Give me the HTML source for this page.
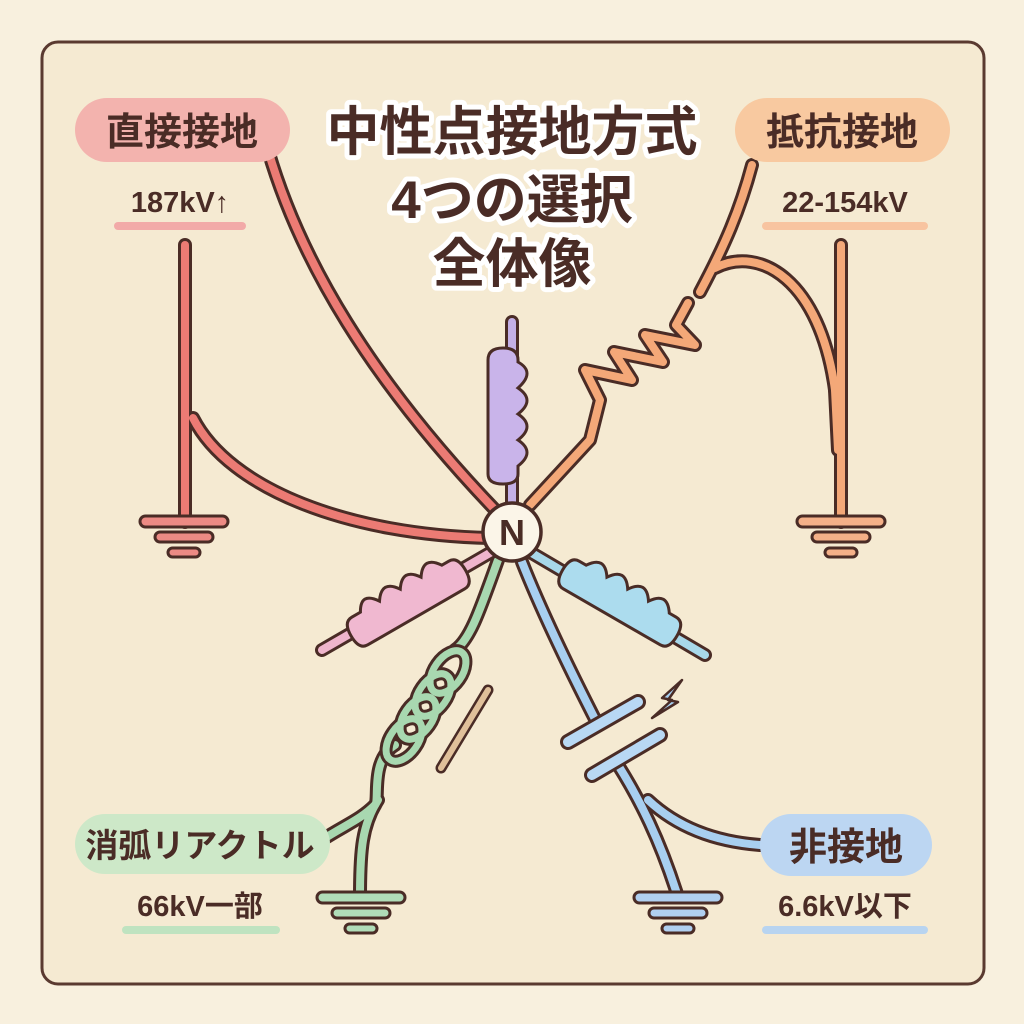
<!DOCTYPE html>
<html><head><meta charset="utf-8">
<style>
html,body{margin:0;padding:0;background:#f7eedb;}
svg{display:block}
.t{font-family:"Liberation Sans","Noto Sans CJK JP",sans-serif;font-weight:bold;fill:#4a2c26}
</style></head><body>
<svg width="1024" height="1024" viewBox="0 0 1024 1024" xmlns="http://www.w3.org/2000/svg">
<rect x="0" y="0" width="1024" height="1024" fill="#f8f0de"/>
<rect x="42" y="42" width="942" height="942" rx="16" fill="#f5ead2" stroke="#5a3a30" stroke-width="3"/>

<g fill="none" stroke-linecap="round" stroke-linejoin="round">
<!-- red -->
<g stroke="#4a2c26" stroke-width="14">
<path d="M268,150 C300,260 370,380 500,515"/>
<path d="M185,245 L185,522"/>
<path d="M490,538 C350,535 230,490 193,418"/>
</g>
<g stroke="#ec7b74" stroke-width="8">
<path d="M268,150 C300,260 370,380 500,515"/>
<path d="M185,245 L185,522"/>
<path d="M490,538 C350,535 230,490 193,418"/>
</g>
<!-- orange -->
<g stroke="#4a2c26" stroke-width="14">
<path d="M752,165 C740,210 725,245 700,292"/>
<path d="M715,268 C760,245 820,280 835,390"/>
<path d="M841,245 L841,522"/>
<path d="M835,390 L838,450"/>
<path d="M688,303 L676,325 L695,345 L645,335 L663,362 L614,352 L632,380 L585,370 L600,400 L590,440 L530,505"/>
</g>
<g stroke="#f4a878" stroke-width="8">
<path d="M752,165 C740,210 725,245 700,292"/>
<path d="M715,268 C760,245 820,280 835,390"/>
<path d="M841,245 L841,522"/>
<path d="M835,390 L838,450"/>
<path d="M688,303 L676,325 L695,345 L645,335 L663,362 L614,352 L632,380 L585,370 L600,400 L590,440 L530,505"/>
</g>
<!-- green -->
<g stroke="#4a2c26" stroke-width="14">
<path d="M498,560 C480,610 470,640 455,650"/>
<path d="M395,745 C370,760 380,800 375,805 C360,820 345,825 322,840"/>
<path d="M378,800 C362,825 360,850 360,897"/>
</g>
<g stroke="#a8d8b0" stroke-width="8">
<path d="M498,560 C480,610 470,640 455,650"/>
<path d="M395,745 C370,760 380,800 375,805 C360,820 345,825 322,840"/>
<path d="M378,800 C362,825 360,850 360,897"/>
</g>
<g stroke="#4a2c26" stroke-width="13">
<ellipse cx="448" cy="672" rx="24" ry="14" transform="rotate(-55 448 672)"/>
<ellipse cx="433" cy="695" rx="24" ry="14" transform="rotate(-55 433 695)"/>
<ellipse cx="418" cy="718" rx="24" ry="14" transform="rotate(-55 418 718)"/>
<ellipse cx="404" cy="740" rx="24" ry="14" transform="rotate(-55 404 740)"/>
</g>
<g stroke="#a8d8b0" stroke-width="7">
<ellipse cx="448" cy="672" rx="24" ry="14" transform="rotate(-55 448 672)"/>
<ellipse cx="433" cy="695" rx="24" ry="14" transform="rotate(-55 433 695)"/>
<ellipse cx="418" cy="718" rx="24" ry="14" transform="rotate(-55 418 718)"/>
<ellipse cx="404" cy="740" rx="24" ry="14" transform="rotate(-55 404 740)"/>
</g>
<path d="M488,690 L441,768" stroke="#4a2c26" stroke-width="11"/>
<path d="M488,690 L441,768" stroke="#e0c09a" stroke-width="6"/>
<!-- blue -->
<g stroke="#4a2c26" stroke-width="14">
<path d="M522,562 C545,620 575,680 598,725"/>
<path d="M618,765 C640,800 660,840 678,897"/>
<path d="M648,800 C680,830 720,842 760,845"/>
</g>
<g stroke="#a8cff0" stroke-width="8">
<path d="M522,562 C545,620 575,680 598,725"/>
<path d="M618,765 C640,800 660,840 678,897"/>
<path d="M648,800 C680,830 720,842 760,845"/>
</g>
<g stroke="#4a2c26" stroke-width="16">
<path d="M568,742 L638,702"/><path d="M592,775 L660,735"/>
</g>
<g stroke="#b8d8f4" stroke-width="10">
<path d="M568,742 L638,702"/><path d="M592,775 L660,735"/>
</g>
<!-- leads -->
<path d="M512,322 L512,505" stroke="#4a2c26" stroke-width="14"/>
<path d="M512,322 L512,505" stroke="#c4b0e6" stroke-width="8"/>
<path d="M322,650 L495,550" stroke="#4a2c26" stroke-width="14"/>
<path d="M322,650 L495,550" stroke="#efb5cc" stroke-width="8"/>
<path d="M705,655 L530,552" stroke="#4a2c26" stroke-width="14"/>
<path d="M705,655 L530,552" stroke="#a8d8ea" stroke-width="8"/>
</g>

<!-- lightning -->
<path d="M682,680 L662,698 L672,700 L652,718 L678,702 L668,700 Z" fill="#a8cff0" stroke="#4a2c26" stroke-width="2.5" stroke-linejoin="round"/>

<!-- purple body -->
<path d="M488,360 Q488,348 503,348 Q518,348 518,360 L518,362 Q536,372 518,388 Q536,400 518,414 Q536,426 518,440 Q536,452 518,466 L518,474 Q518,484 503,484 Q488,484 488,474 Z" fill="#c9b4ea" stroke="#4a2c26" stroke-width="3"/>
<!-- pink body -->
<g transform="translate(410,602) rotate(-30)">
<path d="M-58,-16 L-48,-16 Q-38,-34 -26,-16 Q-14,-34 -2,-16 Q10,-34 22,-16 Q34,-34 46,-16 L54,-16 Q64,-16 64,0 Q64,16 54,16 L-58,16 Q-68,16 -68,0 Q-68,-16 -58,-16 Z" fill="#f0b8d0" stroke="#4a2c26" stroke-width="3"/>
</g>
<!-- blue body -->
<g transform="translate(618,602) rotate(30)">
<path d="M-54,-16 L-46,-16 Q-34,-34 -22,-16 Q-10,-34 2,-16 Q14,-34 26,-16 Q38,-34 50,-16 L58,-16 Q68,-16 68,0 Q68,16 58,16 L-54,16 Q-64,16 -64,0 Q-64,-16 -54,-16 Z" fill="#acdcee" stroke="#4a2c26" stroke-width="3"/>
</g>

<!-- N -->
<circle cx="512" cy="532" r="29" fill="#fbf5e8" stroke="#4a2c26" stroke-width="3.5"/>
<text x="512" y="545" text-anchor="middle" class="t" font-size="36">N</text>

<!-- grounds -->
<g stroke="#4a2c26" stroke-width="3">
<rect x="140" y="516" width="88" height="11" rx="5.5" fill="#ec8a84"/>
<rect x="155" y="532" width="58" height="10" rx="5" fill="#ec8a84"/>
<rect x="168" y="548" width="32" height="9" rx="4.5" fill="#ec8a84"/>
<rect x="797" y="516" width="88" height="11" rx="5.5" fill="#f4b088"/>
<rect x="812" y="532" width="58" height="10" rx="5" fill="#f4b088"/>
<rect x="825" y="548" width="32" height="9" rx="4.5" fill="#f4b088"/>
<rect x="317" y="892" width="88" height="11" rx="5.5" fill="#b0dcb8"/>
<rect x="332" y="908" width="58" height="10" rx="5" fill="#b0dcb8"/>
<rect x="345" y="924" width="32" height="9" rx="4.5" fill="#b0dcb8"/>
<rect x="634" y="892" width="88" height="11" rx="5.5" fill="#b0cff0"/>
<rect x="649" y="908" width="58" height="10" rx="5" fill="#b0cff0"/>
<rect x="662" y="924" width="32" height="9" rx="4.5" fill="#b0cff0"/>
</g>

<!-- pills -->
<rect x="75" y="98" width="215" height="64" rx="32" fill="#f3b3ae"/>
<text x="182" y="145" text-anchor="middle" class="t" font-size="38">直接接地</text>
<rect x="735" y="98" width="215" height="64" rx="32" fill="#f8c9a0"/>
<text x="842" y="145" text-anchor="middle" class="t" font-size="38">抵抗接地</text>
<rect x="75" y="814" width="255" height="60" rx="30" fill="#cde8c8"/>
<text x="200" y="857" text-anchor="middle" class="t" font-size="33">消弧リアクトル</text>
<rect x="760" y="814" width="172" height="62" rx="31" fill="#bcd6f2"/>
<text x="846" y="860" text-anchor="middle" class="t" font-size="38">非接地</text>

<!-- voltage labels -->
<g stroke-linecap="round" stroke-width="8">
<path d="M118,226 L242,226" stroke="#f2aaa8"/>
<path d="M766,226 L924,226" stroke="#f8c4a0"/>
<path d="M126,930 L276,930" stroke="#bfe3c0"/>
<path d="M766,930 L924,930" stroke="#b8d4f0"/>
</g>
<text x="180" y="212" text-anchor="middle" class="t" font-size="29">187kV↑</text>
<text x="845" y="212" text-anchor="middle" class="t" font-size="29">22-154kV</text>
<text x="200" y="916" text-anchor="middle" class="t" font-size="29">66kV一部</text>
<text x="845" y="916" text-anchor="middle" class="t" font-size="29">6.6kV以下</text>

<!-- title -->
<g class="t" font-size="53" text-anchor="middle" stroke="#ffffff" stroke-width="10" stroke-linejoin="round" paint-order="stroke">
<text x="512" y="150">中性点接地方式</text>
<text x="512" y="218">4つの選択</text>
<text x="512" y="282">全体像</text>
</g>
</svg>
</body></html>
